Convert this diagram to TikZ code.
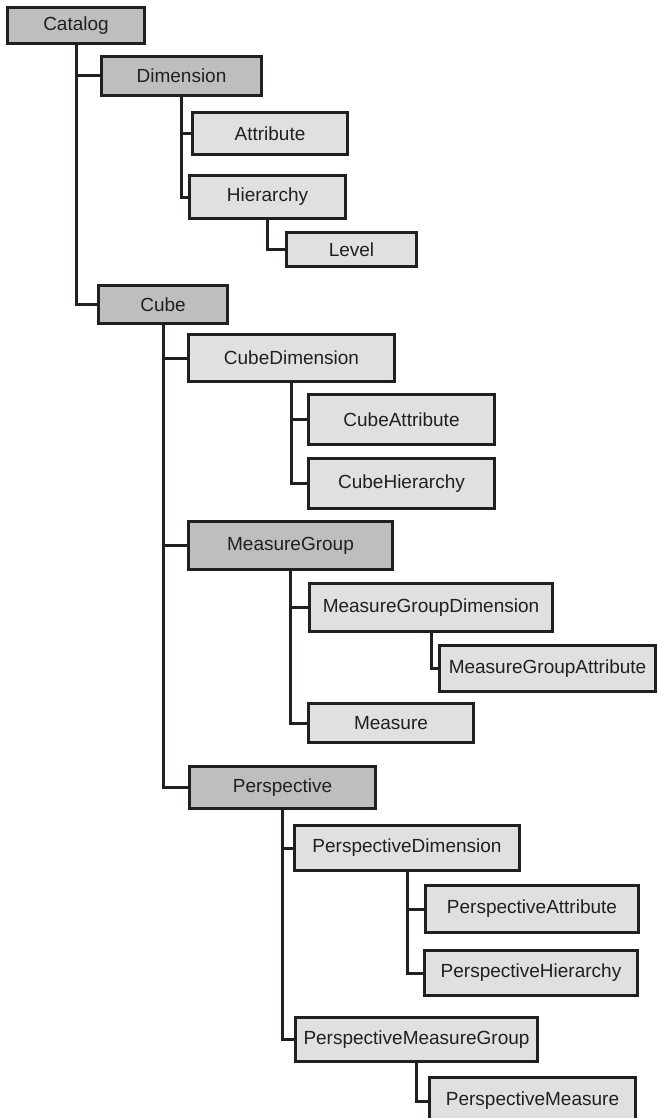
\documentclass[tikz,border=0pt]{standalone}
\usepackage{fontspec}
\setmainfont{Liberation Sans}
\definecolor{boxdark}{HTML}{BDBEC0}
\definecolor{boxlight}{HTML}{DFE0E1}
\definecolor{ink}{HTML}{231F20}
\tikzset{
  obj/.style={draw=ink, line width=3pt, inner sep=0pt, text=ink,
    font=\fontsize{19}{22}\selectfont},
  darkobj/.style={obj, fill=boxdark},
  lightobj/.style={obj, fill=boxlight},
  link/.style={draw=ink, line width=3pt}
}
\begin{document}
\begin{tikzpicture}[x=1pt,y=-1pt]
\clip (0,0) rectangle (658,1118);
%catalog and dimension
\node[darkobj, minimum width=137pt, minimum height=36pt] (catalog) at (76,25.5) {Catalog};
\node[darkobj, minimum width=160pt, minimum height=39pt] (dim) at (181.5,76) {Dimension};
\node[lightobj, minimum width=155pt, minimum height=42pt] (attr) at (270,133.5) {Attribute};
\node[lightobj, minimum width=156pt, minimum height=43pt] (hier) at (267.5,197) {Hierarchy};
\node[lightobj, minimum width=130pt, minimum height=34pt] (level) at (351.5,249.5) {Level};
%cube
\node[darkobj, minimum width=129pt, minimum height=38pt] (cube) at (163,304.5) {Cube};
\node[lightobj, minimum width=206pt, minimum height=47pt] (cubedim) at (291.5,358) {CubeDimension};
\node[lightobj, minimum width=186pt, minimum height=50pt] (cubeattr) at (401.5,419.5) {CubeAttribute};
\node[lightobj, minimum width=186pt, minimum height=50pt] (cubehier) at (401.5,483.5) {CubeHierarchy};
%measure group
\node[darkobj, minimum width=204pt, minimum height=48pt] (mg) at (290.5,545.5) {MeasureGroup};
\node[lightobj, minimum width=243pt, minimum height=48pt] (mgdim) at (431,607.5) {MeasureGroupDimension};
\node[lightobj, minimum width=216pt, minimum height=46pt] (mgattr) at (547.5,668.5) {MeasureGroupAttribute};
\node[lightobj, minimum width=165pt, minimum height=39pt] (measure) at (391,723) {Measure};
%perspective
\node[darkobj, minimum width=186pt, minimum height=42pt] (persp) at (282.5,787.5) {Perspective};
\node[lightobj, minimum width=225pt, minimum height=45pt] (pdim) at (407,848) {PerspectiveDimension};
\node[lightobj, minimum width=213pt, minimum height=47pt] (pattr) at (532,909) {PerspectiveAttribute};
\node[lightobj, minimum width=213pt, minimum height=45pt] (phier) at (531,973) {PerspectiveHierarchy};
\node[lightobj, minimum width=242pt, minimum height=44pt] (pmg) at (416.5,1039.5) {PerspectiveMeasureGroup};
\node[lightobj, minimum width=206pt, minimum height=48pt] (pmeasure) at (532.5,1101) {PerspectiveMeasure};
%links
\draw[link] (catalog.south) |- (dim.west);
\draw[link] (catalog.south) |- (cube.west);
\draw[link] (dim.south) |- (attr.west);
\draw[link] (dim.south) |- (hier.west);
\draw[link] (hier.south) |- (level.west);
\draw[link] (cube.south) |- (cubedim.west);
\draw[link] (cube.south) |- (mg.west);
\draw[link] (cube.south) |- (persp.west);
\draw[link] (cubedim.south) |- (cubeattr.west);
\draw[link] (cubedim.south) |- (cubehier.west);
\draw[link] (mg.south) |- (mgdim.west);
\draw[link] (mg.south) |- (measure.west);
\draw[link] (mgdim.south) |- (mgattr.west);
\draw[link] (persp.south) |- (pdim.west);
\draw[link] (persp.south) |- (pmg.west);
\draw[link] (pdim.south) |- (pattr.west);
\draw[link] (pdim.south) |- (phier.west);
\draw[link] (pmg.south) |- (pmeasure.west);
\end{tikzpicture}
\end{document}
